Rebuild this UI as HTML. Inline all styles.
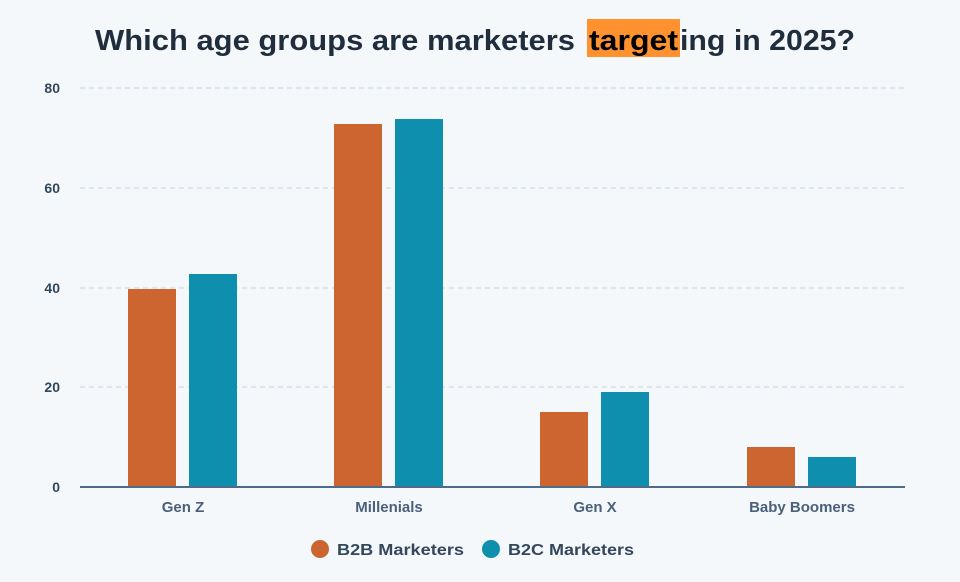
<!DOCTYPE html>
<html><head><style>
body{margin:0;width:960px;height:577px;background:#f5f8fb;overflow:hidden;font-family:"Liberation Sans",sans-serif}
</style></head><body>
<svg width="960" height="577" xmlns="http://www.w3.org/2000/svg">
<rect x="587" y="19" width="93" height="38" fill="#ff922e"/>
<g font-size="29" font-weight="bold" font-family="Liberation Sans, sans-serif" fill="#1f2d3d">
<text x="95" y="50" textLength="480" lengthAdjust="spacingAndGlyphs">Which age groups are marketers</text>
<text x="589" y="50" textLength="89" lengthAdjust="spacingAndGlyphs" fill="#000">target</text>
<text x="680" y="50" textLength="175" lengthAdjust="spacingAndGlyphs">ing in 2025?</text>
</g>
<g stroke="#c7d2df" stroke-dasharray="5,4" stroke-width="1">
<line x1="80" y1="88" x2="905" y2="88"/><line x1="80" y1="188" x2="905" y2="188"/>
<line x1="80" y1="288" x2="905" y2="288"/><line x1="80" y1="387" x2="905" y2="387"/>
</g>
<g font-size="14" fill="#33475b" text-anchor="end" font-weight="bold">
<text x="60" y="93">80</text><text x="60" y="193">60</text><text x="60" y="293">40</text><text x="60" y="392">20</text><text x="60" y="492">0</text>
</g>
<g fill="#cc6530">
<rect x="128" y="289" width="48" height="198"/><rect x="334" y="124" width="48" height="363"/>
<rect x="540" y="412" width="48" height="75"/><rect x="747" y="447" width="48" height="40"/>
</g>
<g fill="#0e8fad">
<rect x="189" y="274" width="48" height="213"/><rect x="395" y="119" width="48" height="368"/>
<rect x="601" y="392" width="48" height="95"/><rect x="808" y="457" width="48" height="30"/>
</g>
<line x1="80" y1="487" x2="905" y2="487" stroke="#4f6b8a" stroke-width="2"/>
<g font-size="15" fill="#4a607a" text-anchor="middle" font-weight="bold">
<text x="183" y="512">Gen Z</text><text x="389" y="512">Millenials</text><text x="595" y="512">Gen X</text><text x="802" y="512">Baby Boomers</text>
</g>
<circle cx="320" cy="549" r="9" fill="#cc6530"/>
<text x="337" y="555" font-size="16" font-weight="bold" fill="#33475b" textLength="127" lengthAdjust="spacingAndGlyphs">B2B Marketers</text>
<circle cx="491" cy="549" r="9" fill="#0e8fad"/>
<text x="508" y="555" font-size="16" font-weight="bold" fill="#33475b" textLength="126" lengthAdjust="spacingAndGlyphs">B2C Marketers</text>
</svg>
</body></html>
